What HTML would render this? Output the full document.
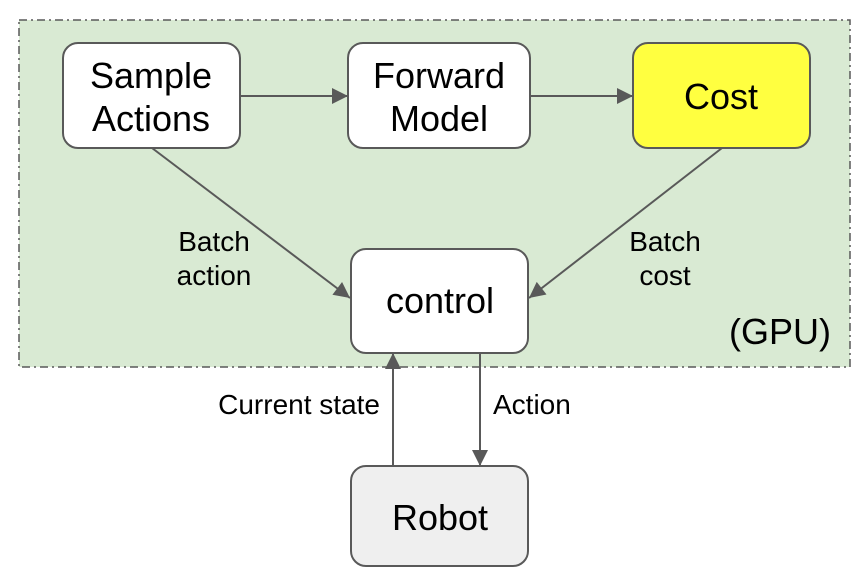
<!DOCTYPE html>
<html><head><style>body{margin:0;background:#fff}svg{display:block}</style></head><body>
<svg width="853" height="579" xmlns="http://www.w3.org/2000/svg" font-family="Liberation Sans, Arial, sans-serif">
<defs>
<marker id="b" viewBox="0 0 10 10" markerWidth="18" markerHeight="16" refX="10" refY="5" orient="auto" markerUnits="userSpaceOnUse"><path d="M0,0 L10,5 L0,10 z" fill="#595959"/></marker></defs>
<rect x="19" y="20" width="831" height="347" fill="#d9ead3" stroke="#595959" stroke-width="1.5" stroke-dasharray="8,4,2,4"/>
<g stroke="#595959" stroke-width="2">
<rect x="63" y="43" width="177" height="105" rx="15" fill="#fff"/>
<rect x="348" y="43" width="182" height="105" rx="15" fill="#fff"/>
<rect x="633" y="43" width="177" height="105" rx="15" fill="#ffff40"/>
<rect x="351" y="249" width="177" height="104" rx="15" fill="#fff"/>
<rect x="351" y="466" width="177" height="100" rx="15" fill="#efefef"/>
<line x1="240" y1="96" x2="348" y2="96" marker-end="url(#b)"/>
<line x1="530" y1="96" x2="633" y2="96" marker-end="url(#b)"/>
<line x1="152" y1="148" x2="350" y2="298" marker-end="url(#b)"/>
<line x1="722" y1="148" x2="529" y2="298" marker-end="url(#b)"/>
<line x1="393" y1="466" x2="393" y2="353" marker-end="url(#b)"/>
<line x1="480" y1="353" x2="480" y2="466" marker-end="url(#b)"/>
</g>
<g font-size="36" text-anchor="middle" fill="#000">
<text x="151" y="88">Sample</text><text x="151" y="131">Actions</text>
<text x="439" y="88">Forward</text><text x="439" y="131">Model</text>
<text x="721" y="109">Cost</text>
<text x="440" y="313">control</text>
<text x="440" y="530">Robot</text>
<text x="780" y="344">(GPU)</text>
</g>
<g font-size="28" fill="#000">
<text x="214" y="251" text-anchor="middle">Batch</text><text x="214" y="285" text-anchor="middle">action</text>
<text x="665" y="251" text-anchor="middle">Batch</text><text x="665" y="285" text-anchor="middle">cost</text>
<text x="380" y="414" text-anchor="end">Current state</text>
<text x="493" y="414">Action</text>
</g>
</svg>
</body></html>
